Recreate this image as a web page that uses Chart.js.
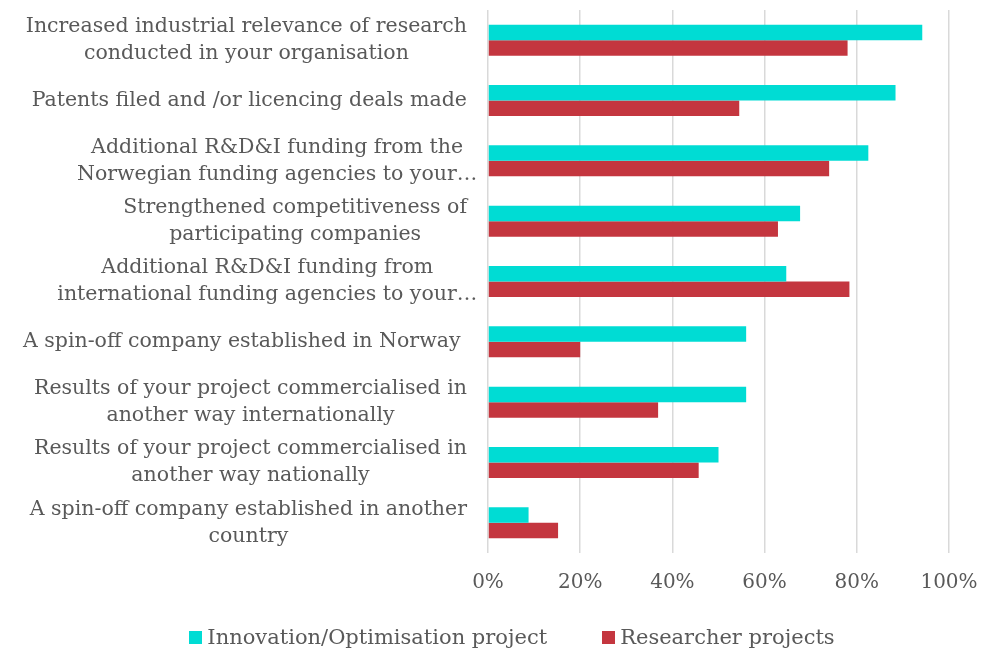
<!DOCTYPE html>
<html>
<head>
<meta charset="utf-8">
<script src="https://cdn.jsdelivr.net/npm/chart.js@4"></script>
<style>
  body { margin: 0; background: #fff; }
  #wrap { position: relative; width: 982px; height: 652px; }
  #legend {
    position: absolute; left: 0; top: 625px; width: 940px; padding-left: 42px;
    display: flex; justify-content: center; gap: 55px;
    font-family: "DejaVu Serif", serif; font-size: 21px; color: #595959;
  }
  #legend span { display: flex; align-items: center; }
  #legend i { display: inline-block; width: 13px; height: 13px; margin-right: 5px; }
</style>
</head>
<body>
<div id="wrap">
  <canvas id="chart" width="982" height="652"></canvas>
  <div id="legend"></div>
</div>
<script>
var categories = [
  ["Increased industrial relevance of research", "conducted in your organisation"],
  ["Patents filed and /or licencing deals made"],
  ["Additional R&D&I funding from the", "Norwegian funding agencies to your…"],
  ["Strengthened competitiveness of", "participating companies"],
  ["Additional R&D&I funding from", "international funding agencies to your…"],
  ["A spin-off company established in Norway "],
  ["Results of your project commercialised in", "another way internationally"],
  ["Results of your project commercialised in", "another way nationally"],
  ["A spin-off company established in another", "country"]
];
var innovation = [94.2, 88.4, 82.5, 67.7, 64.7, 56, 56, 50, 8.8];
var researcher = [78, 54.5, 74, 62.9, 78.4, 20, 36.9, 45.7, 15.2];
var seriesNames = ["Innovation/Optimisation project", "Researcher projects"];
var seriesColors = ["#00dcd4", "#c4363f"];
var xTicks = [0, 20, 40, 60, 80, 100];

var fontFamily = '"DejaVu Serif", serif';
var labelSize = 20.5;
var tickSize = 20;
var textColor = '#595959';

// category labels: widest line right-aligned, the other lines centred on it
var yLabels = {
  id: 'yLabels',
  afterDraw: function(chart) {
    var ctx = chart.ctx;
    var y = chart.scales.y;
    var right = 467, lineH = 27;
    ctx.save();
    ctx.font = labelSize + 'px ' + fontFamily;
    ctx.fillStyle = textColor;
    ctx.textAlign = 'center';
    ctx.textBaseline = 'middle';
    categories.forEach(function(lines, i) {
      var w = Math.max.apply(null, lines.map(function(l) {
        return ctx.measureText(l.replace('…', '')).width;
      }));
      var cx = right - w / 2;
      var cy = y.getPixelForTick(i);
      lines.forEach(function(l, j) {
        ctx.fillText(l, cx, cy + (j - (lines.length - 1) / 2) * lineH);
      });
    });
    ctx.restore();
  }
};

new Chart(document.getElementById('chart').getContext('2d'), {
  type: 'bar',
  data: {
    labels: categories,
    datasets: [
      { label: seriesNames[0], data: innovation, backgroundColor: seriesColors[0] },
      { label: seriesNames[1], data: researcher, backgroundColor: seriesColors[1] }
    ]
  },
  options: {
    indexAxis: 'y',
    responsive: false,
    animation: false,
    categoryPercentage: 0.515,
    barPercentage: 1,
    layout: { padding: { top: 10, right: 0, left: 0, bottom: 0 } },
    plugins: { legend: { display: false }, tooltip: { enabled: false } },
    scales: {
      x: {
        min: 0, max: 100,
        afterBuildTicks: function(s) { s.ticks = xTicks.map(function(v) { return { value: v }; }); },
        afterFit: function(s) { s.height = 99; s.paddingRight = 33; s.paddingLeft = 0; },
        ticks: {
          padding: 18,
          color: textColor,
          font: { family: fontFamily, size: tickSize },
          callback: function(v) { return v + '%'; }
        },
        grid: { color: '#d9d9d9', lineWidth: 1.5, drawTicks: false },
        border: { display: false }
      },
      y: {
        afterFit: function(s) { s.width = 488; },
        ticks: { display: false },
        grid: { display: false },
        border: { display: false }
      }
    }
  },
  plugins: [yLabels]
});

var legend = document.getElementById('legend');
seriesNames.forEach(function(name, i) {
  legend.innerHTML += '<span><i style="background:' + seriesColors[i] + '"></i>' + name + '</span>';
});
</script>
</body>
</html>
